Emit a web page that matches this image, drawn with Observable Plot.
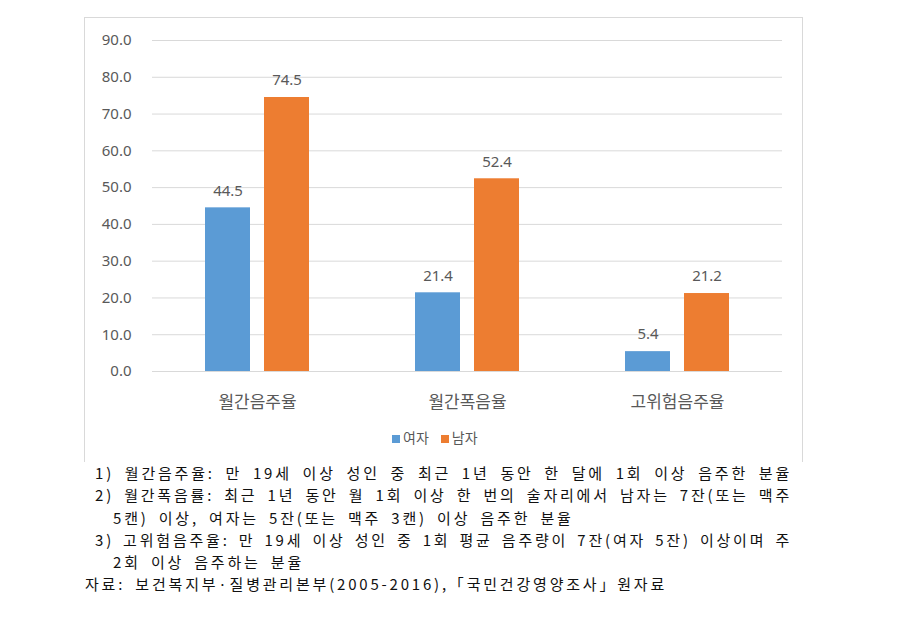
<!DOCTYPE html>
<html>
<head>
<meta charset="utf-8">
<script src="https://cdn.jsdelivr.net/npm/d3@7"></script>
<script src="https://cdn.jsdelivr.net/npm/@observablehq/plot@0.6"></script>
<style>
  html, body { margin: 0; padding: 0; background: #fff; width: 900px; height: 630px; overflow: hidden; }
  body { position: relative; font-family: "Noto Sans", "Noto Sans CJK KR", sans-serif; }
  #box { position: absolute; left: 84px; top: 17px; width: 719px; height: 445px; border: 1px solid #d9d9d9; border-bottom: none; box-sizing: border-box; }
  #chart { position: absolute; left: 85px; top: 18px; }
  #chart g[aria-label^="fx-axis"] text { font-size: 17px; font-family: "Noto Sans CJK KR", sans-serif; }
  #legend { position: absolute; top: 427px; left: 392px; font-family: "Noto Sans CJK KR", sans-serif; font-size: 14px; color: #595959; display: flex; align-items: center; gap: 12px; }
  #legend span.sw { display: inline-block; width: 8px; height: 8px; margin-right: 3px; vertical-align: middle; }
  #notes { position: absolute; left: 85px; top: 462px; width: 707px; font-family: "Noto Sans CJK KR", sans-serif; font-size: 15px; letter-spacing: 2.8px; word-spacing: 4px; color: #111; line-height: 22.3px; }
  #notes div { white-space: nowrap; height: 22.3px; }
  #notes .j { text-align: justify; text-align-last: justify; white-space: normal; word-spacing: 0; }
  #notes .n { padding-left: 10px; }
  #notes .i { padding-left: 28px; }
</style>
</head>
<body>
<div id="box"></div>
<div id="chart"></div>
<div id="legend"></div>
<div id="notes"></div>
<script>
const categories = ["월간음주율", "월간폭음율", "고위험음주율"];
const sexes = ["여자", "남자"];
const female = [44.5, 21.4, 5.4];
const male = [74.5, 52.4, 21.2];
const yTicks = [0, 10, 20, 30, 40, 50, 60, 70, 80, 90];
const colors = ["#5B9BD5", "#ED7D31"];
const noteLines = [
  ["n j", "1) 월간음주율: 만 19세 이상 성인 중 최근 1년 동안 한 달에 1회 이상 음주한 분율"],
  ["n j", "2) 월간폭음률: 최근 1년 동안 월 1회 이상 한 번의 술자리에서 남자는 7잔(또는 맥주"],
  ["i", "5캔) 이상, 여자는 5잔(또는 맥주 3캔) 이상 음주한 분율"],
  ["n j", "3) 고위험음주율: 만 19세 이상 성인 중 1회 평균 음주량이 7잔(여자 5잔) 이상이며 주"],
  ["i", "2회 이상 음주하는 분율"],
  ["", "자료: 보건복지부·질병관리본부(2005-2016),「국민건강영양조사」원자료"]
];

const table = [];
categories.forEach((c, i) => {
  table.push({category: c, sex: sexes[0], value: female[i]});
  table.push({category: c, sex: sexes[1], value: male[i]});
});

const chart = Plot.plot({
  width: 719,
  height: 410,
  marginLeft: 66,
  marginRight: 22,
  marginTop: 22,
  marginBottom: 57,
  style: {fontFamily: "'Noto Sans', 'Noto Sans CJK KR', sans-serif", fontSize: "15px", color: "#595959", background: "transparent"},
  facet: {data: table, x: "category"},
  fx: {domain: categories, padding: 0, axis: "bottom", tickSize: 0, tickPadding: 24, label: null},
  x: {domain: sexes, paddingInner: 0.233, paddingOuter: 0.867, axis: null},
  y: {domain: [0, 90], ticks: yTicks, tickFormat: d3.format(".1f"), tickSize: 0, tickPadding: 21, label: null, grid: false},
  color: {domain: sexes, range: colors},
  marks: [
    Plot.ruleY(yTicks, {stroke: "#d9d9d9", strokeWidth: 1}),
    Plot.barY(table, {x: "sex", y: "value", fill: "sex"}),
    Plot.text(table, {x: "sex", y: "value", text: d => d.value.toFixed(1), dy: -17, fill: "#595959", fontSize: 15})
  ]
});
document.getElementById("chart").appendChild(chart);

const legend = document.getElementById("legend");
sexes.forEach((s, i) => {
  const item = document.createElement("div");
  const sw = document.createElement("span");
  sw.className = "sw";
  sw.style.background = colors[i];
  item.appendChild(sw);
  item.appendChild(document.createTextNode(s));
  legend.appendChild(item);
});

const notes = document.getElementById("notes");
noteLines.forEach(([cls, t]) => {
  const d = document.createElement("div");
  d.className = cls;
  d.textContent = t;
  notes.appendChild(d);
});
</script>
</body>
</html>
